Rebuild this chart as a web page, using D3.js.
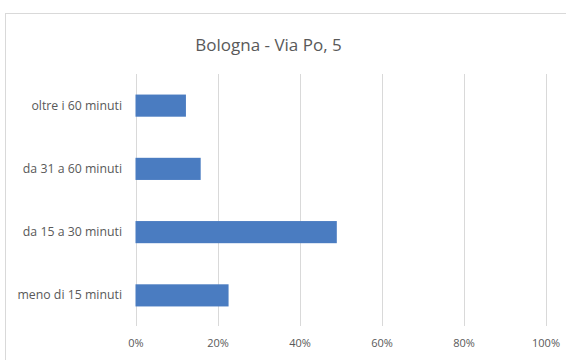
<!DOCTYPE html>
<html><head><meta charset="utf-8">
<script src="https://cdn.jsdelivr.net/npm/d3@7"></script>
<style>body{margin:0;background:#fff}svg{display:block}</style>
</head><body>
<script>
const title = "Bologna - Via Po, 5";
const categories = ["oltre i 60 minuti", "da 31 a 60 minuti", "da 15 a 30 minuti", "meno di 15 minuti"];
const values = [0.123, 0.159, 0.491, 0.227];
const ticks = [0, 0.2, 0.4, 0.6, 0.8, 1.0];

const W = 566, H = 360;
const svg = d3.select("body").append("svg").attr("width", W).attr("height", H);
const font = "'Open Sans', 'Liberation Sans', sans-serif";

svg.append("rect").attr("x", 5.5).attr("y", 13.5).attr("width", W).attr("height", H)
  .attr("fill", "#fff").attr("stroke", "#d9d9d9").attr("stroke-width", 1);

svg.append("text").attr("x", 268.5).attr("y", 51).attr("text-anchor", "middle")
  .attr("font-family", font).attr("font-size", 17).attr("fill", "#595959").text(title);

const x = d3.scaleLinear().domain([0, 1]).range([135.5, 545.5]);
const y = d3.scaleBand().domain(categories).range([74, 327]).paddingInner(0.65).paddingOuter(0.325);

const grid = svg.append("g");
grid.selectAll("line").data(ticks).join("line")
  .attr("x1", d => Math.round(x(d)) + 0.5).attr("x2", d => Math.round(x(d)) + 0.5)
  .attr("y1", 74).attr("y2", 326).attr("stroke", "#d9d9d9").attr("stroke-width", 1);

const xAxis = d3.axisBottom(x).tickValues(ticks).tickFormat(d3.format(".0%")).tickSize(0);
svg.append("g").attr("transform", "translate(0,336)").call(xAxis)
  .call(g => g.select(".domain").remove())
  .call(g => g.selectAll("text").attr("font-family", font).attr("font-size", 11).attr("fill", "#595959"));

const yAxis = d3.axisLeft(y).tickSize(0).tickPadding(0);
svg.append("g").attr("transform", "translate(122,0)").call(yAxis)
  .call(g => g.select(".domain").remove())
  .call(g => g.selectAll("text").attr("font-family", font).attr("font-size", 12.3).attr("fill", "#595959"));

svg.append("g").selectAll("rect").data(categories).join("rect")
  .attr("x", x(0)).attr("y", d => y(d))
  .attr("width", (d, i) => x(values[i]) - x(0)).attr("height", y.bandwidth())
  .attr("fill", "#4a7cc1");
</script>
</body></html>
